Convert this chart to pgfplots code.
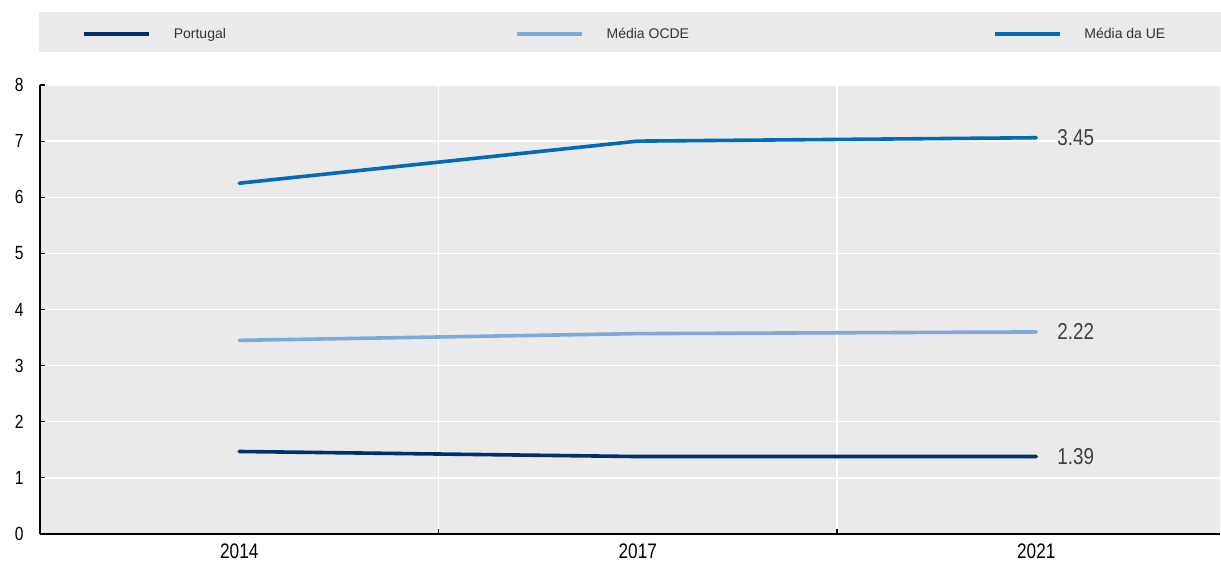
\documentclass[border=0pt]{standalone}
\usepackage{fontspec}
\setmainfont{Liberation Sans}
\newfontfamily\narrow[FakeStretch=0.82]{Liberation Sans}
\usepackage{pgfplots}
\pgfplotsset{compat=1.18}

\definecolor{ptblue}{HTML}{002F6C}
\definecolor{oecdblue}{HTML}{7FA9DB}
\definecolor{eublue}{HTML}{006BB6}
\definecolor{panel}{HTML}{EAEAEA}
\definecolor{labelgray}{HTML}{404040}
\definecolor{legendtext}{HTML}{333333}

\begin{document}
\begin{tikzpicture}[x=1bp,y=1bp]
  % fixed page frame
  \useasboundingbox (0,0) rectangle (1221,563);
  % legend band
  \fill[panel] (39,511) rectangle (1221,551);

  \begin{axis}[
    at={(40bp,29bp)}, anchor=south west,
    scale only axis,
    width=1180bp, height=449bp,
    xmin=-0.5, xmax=2.461,
    ymin=0, ymax=8,
    ytick={0,1,...,8},
    xtick={0.5,1.5},
    xticklabels={},
    extra x ticks={0,1,2},
    extra x tick labels={2014,2017,2021},
    extra x tick style={major tick length=0pt, xmajorgrids=false,
      tick label style={font=\narrow\fontsize{21bp}{21bp}\selectfont, yshift=-6bp}},
    axis lines*=left,
    axis line style={-, black, line width=1.4bp},
    axis background/.style={fill=panel},
    xmajorgrids, ymajorgrids,
    major grid style={white, line width=1.4bp},
    tick align=inside,
    major tick length=5bp,
    tick style={black, line width=1.2bp},
    y tick label style={font=\narrow\fontsize{19bp}{19bp}\selectfont, xshift=-13bp},
    /pgf/number format/assume math mode=true,
    clip=false,
    legend columns=3,
    legend cell align=left,
    legend style={
      at={(axis description cs:0.0356,1.1136)}, anchor=west,
      draw=none, fill=none, inner sep=0pt, outer sep=0pt,
      column sep=0pt,
      nodes={inner sep=0pt, font=\fontsize{14bp}{14bp}\selectfont, text=legendtext},
    },
    legend image code/.code={
      \draw[#1, line width=4bp, line cap=butt] (0bp,0bp) -- (65bp,0bp);
      \path (88bp,0bp);
    },
  ]
    % Portugal
    \addplot[ptblue, line width=3.6bp, line cap=round] coordinates {
      (0,1.47) (1,1.38) (2,1.38)
    } node[pos=1, anchor=west, xshift=16bp, text=labelgray,
          font=\narrow\fontsize{23bp}{23bp}\selectfont] {1.39};
    \addlegendentry{\makebox[341bp][l]{Portugal}}

    % OECD average
    \addplot[oecdblue, line width=3.6bp, line cap=round] coordinates {
      (0,3.45) (1,3.57) (2,3.60)
    } node[pos=1, anchor=west, xshift=16bp, text=labelgray,
          font=\narrow\fontsize{23bp}{23bp}\selectfont] {2.22};
    \addlegendentry{\makebox[386bp][l]{Média OCDE}}

    % EU average
    \addplot[eublue, line width=3.6bp, line cap=round] coordinates {
      (0,6.25) (1,7.00) (2,7.06)
    } node[pos=1, anchor=west, xshift=16bp, text=labelgray,
          font=\narrow\fontsize{23bp}{23bp}\selectfont] {3.45};
    \addlegendentry{Média da UE}
  \end{axis}
\end{tikzpicture}
\end{document}
